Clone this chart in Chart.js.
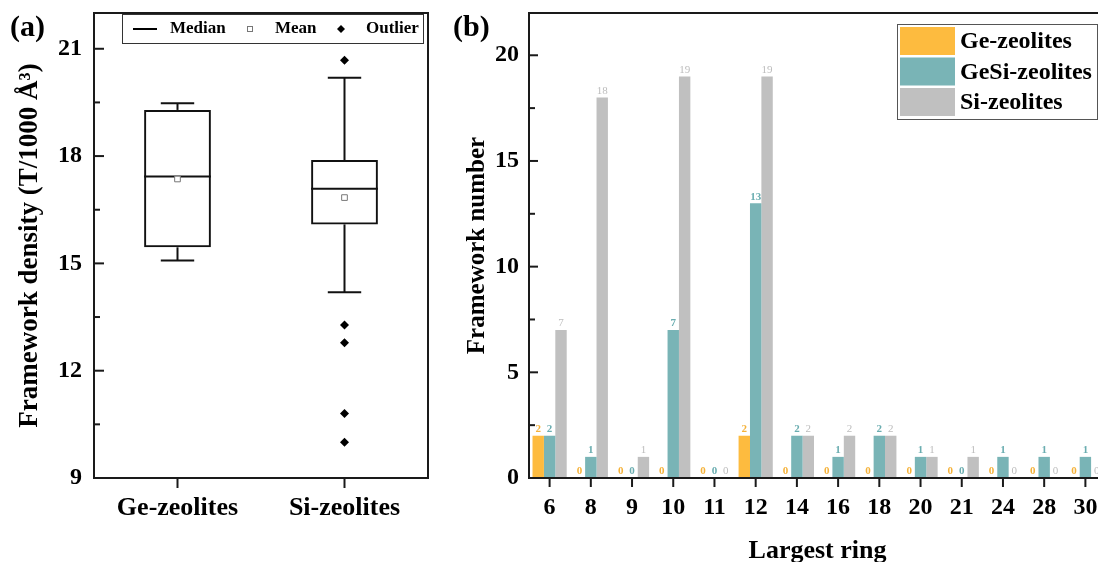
<!DOCTYPE html>
<html>
<head>
<meta charset="utf-8">
<script src="https://cdn.jsdelivr.net/npm/chart.js@4.4.0/dist/chart.umd.min.js"></script>
<style>
  html, body { margin: 0; padding: 0; background: #fff; overflow: hidden; }
  #wrap { position: relative; width: 1098px; height: 562px; overflow: hidden; }
  #densityChart { position: absolute; left: 0; top: 0; }
  #ringChart { position: absolute; left: 440px; top: 0; }
</style>
</head>
<body>
<div id="wrap">
  <canvas id="densityChart" width="440" height="562"></canvas>
  <canvas id="ringChart" width="680" height="562"></canvas>
</div>
<script>
// (a) framework density box plot
const zeoliteTypes = ['Ge-zeolites', 'Si-zeolites'];
const whiskerLow = [15.08, 14.19];
const quartile1 = [15.45, 16.09];
const medians = [17.43, 17.09];
const quartile3 = [19.29, 17.89];
const whiskerHigh = [19.48, 20.19];
const means = [17.36, 16.84];
const siOutliers = [20.68, 13.28, 12.78, 10.80, 10.00];
const densityTicks = [9, 12, 15, 18, 21];

// (b) largest ring counts
const ringSizes = ['6', '8', '9', '10', '11', '12', '14', '16', '18', '20', '21', '24', '28', '30'];
const geCounts = [2, 0, 0, 0, 0, 2, 0, 0, 0, 0, 0, 0, 0, 0];
const gesiCounts = [2, 1, 0, 7, 0, 13, 2, 1, 2, 1, 0, 1, 1, 1];
const siCounts = [7, 18, 1, 19, 0, 19, 2, 2, 2, 1, 1, 0, 0, 0];
const countTicks = [0, 5, 10, 15, 20];

Chart.defaults.font.family = '"Liberation Serif", "Times New Roman", serif';
Chart.defaults.color = '#000';

// major ticks plus a minor one halfway to the next
function withMinors(major, max) {
    const step = major[1] - major[0];
    const all = [];
    major.forEach(v => {
        all.push({ value: v });
        if (v + step / 2 <= max) all.push({ value: v + step / 2 });
    });
    return all;
}

// keep the plot box where we put it (no extra room for edge labels)
const fitY = width => s => { s.width = width; s.paddingTop = 0; s.paddingBottom = 0; };
const fitX = height => s => { s.height = height; s.paddingLeft = 0; s.paddingRight = 0; };

// frame around the plot, inward y ticks, outward x ticks, panel letter
function frameTicks(panel, panelX, yMajorLen, xTickLen) {
    return {
        id: 'frameTicks',
        afterDraw(chart) {
            const { ctx, chartArea: a, scales: { x, y } } = chart;
            ctx.save();
            ctx.strokeStyle = '#1a1a1a';
            ctx.lineWidth = 2;
            ctx.strokeRect(a.left, a.top, a.right - a.left, a.bottom - a.top);
            y.ticks.forEach(t => {
                const py = y.getPixelForValue(t.value);
                const len = t.label !== '' ? yMajorLen : 6;
                ctx.beginPath();
                ctx.moveTo(a.left, py);
                ctx.lineTo(a.left + len, py);
                ctx.stroke();
            });
            x.ticks.forEach((t, i) => {
                const px = x.getPixelForTick(i);
                ctx.beginPath();
                ctx.moveTo(px, a.bottom);
                ctx.lineTo(px, a.bottom + xTickLen);
                ctx.stroke();
            });
            ctx.fillStyle = '#000';
            ctx.font = 'bold 30px "Liberation Serif", serif';
            ctx.textBaseline = 'middle';
            ctx.textAlign = 'left';
            ctx.fillText(panel, panelX, 28);
            ctx.restore();
        }
    };
}

const boxWhiskers = {
    id: 'boxWhiskers',
    beforeDatasetsDraw(chart) {
        const { ctx, scales: { x, y } } = chart;
        const boxes = chart.getDatasetMeta(0).data;
        ctx.save();
        ctx.strokeStyle = '#111';
        ctx.lineWidth = 2;
        zeoliteTypes.forEach((_, i) => {
            const cx = x.getPixelForValue(i);
            const w = boxes[i].width;
            const seg = (x1, y1, x2, y2) => {
                ctx.beginPath();
                ctx.moveTo(x1, y1);
                ctx.lineTo(x2, y2);
                ctx.stroke();
            };
            seg(cx, y.getPixelForValue(whiskerLow[i]), cx, y.getPixelForValue(quartile1[i]));
            seg(cx, y.getPixelForValue(quartile3[i]), cx, y.getPixelForValue(whiskerHigh[i]));
            seg(cx - w / 4, y.getPixelForValue(whiskerLow[i]), cx + w / 4, y.getPixelForValue(whiskerLow[i]));
            seg(cx - w / 4, y.getPixelForValue(whiskerHigh[i]), cx + w / 4, y.getPixelForValue(whiskerHigh[i]));
            seg(cx - w / 2, y.getPixelForValue(medians[i]), cx + w / 2, y.getPixelForValue(medians[i]));
        });
        ctx.restore();
    }
};

const densityLegend = {
    id: 'densityLegend',
    afterDraw(chart) {
        const { ctx } = chart;
        const cy = 29;
        ctx.save();
        ctx.fillStyle = '#fff';
        ctx.fillRect(122, 14, 301, 29);
        ctx.strokeStyle = '#333';
        ctx.lineWidth = 1;
        ctx.strokeRect(122.5, 14.5, 301, 29);
        ctx.lineWidth = 2;
        ctx.strokeStyle = '#000';
        ctx.beginPath();
        ctx.moveTo(133, cy);
        ctx.lineTo(157, cy);
        ctx.stroke();
        ctx.lineWidth = 1;
        ctx.strokeStyle = '#777';
        ctx.strokeRect(247.5, cy - 2.5, 5, 5);
        ctx.fillStyle = '#000';
        ctx.beginPath();
        ctx.moveTo(341, cy - 4);
        ctx.lineTo(345, cy);
        ctx.lineTo(341, cy + 4);
        ctx.lineTo(337, cy);
        ctx.closePath();
        ctx.fill();
        ctx.font = 'bold 17px "Liberation Serif", serif';
        ctx.textBaseline = 'middle';
        ctx.fillText('Median', 170, cy);
        ctx.fillText('Mean', 275, cy);
        ctx.fillText('Outlier', 366, cy);
        ctx.restore();
    }
};

new Chart(document.getElementById('densityChart'), {
    type: 'bar',
    data: {
        labels: zeoliteTypes,
        datasets: [
            {
                type: 'bar',
                label: 'Box',
                data: zeoliteTypes.map((_, i) => [quartile1[i], quartile3[i]]),
                backgroundColor: 'rgba(0,0,0,0)',
                borderColor: '#111',
                borderWidth: 2,
                borderSkipped: false,
                barPercentage: 0.4,
                categoryPercentage: 1,
                order: 3
            },
            {
                type: 'line',
                label: 'Mean',
                data: means,
                showLine: false,
                pointStyle: 'rect',
                pointRadius: 4,
                pointBackgroundColor: '#fff',
                pointBorderColor: '#777',
                pointBorderWidth: 1,
                order: 2
            },
            {
                type: 'line',
                label: 'Outlier',
                data: siOutliers.map(v => ({ x: 'Si-zeolites', y: v })),
                showLine: false,
                pointStyle: 'rectRot',
                pointRadius: 4.5,
                pointBackgroundColor: '#000',
                pointBorderColor: '#000',
                pointBorderWidth: 0,
                order: 1
            }
        ]
    },
    options: {
        responsive: false,
        animation: false,
        events: [],
        layout: { padding: { left: 0, top: 13, right: 12, bottom: 0 } },
        plugins: { legend: { display: false }, tooltip: { enabled: false } },
        scales: {
            x: {
                grid: { display: false, drawTicks: false },
                border: { display: false },
                ticks: { font: { size: 26, weight: 'bold' }, padding: 15 },
                afterFit: fitX(84)
            },
            y: {
                min: 9,
                max: 22,
                grid: { display: false, drawTicks: false },
                border: { display: false },
                afterBuildTicks: s => { s.ticks = withMinors(densityTicks, 22); },
                ticks: {
                    autoSkip: false,
                    font: { size: 24, weight: 'bold' },
                    padding: 12,
                    callback: v => densityTicks.includes(v) ? v : ''
                },
                title: {
                    display: true,
                    text: 'Framework density (T/1000 Å³)',
                    font: { size: 27, weight: 'bold' },
                    padding: { top: 14, bottom: 0 }
                },
                afterFit: fitY(94)
            }
        }
    },
    plugins: [boxWhiskers, frameTicks('(a)', 10, 10, 10), densityLegend]
});

const valueLabels = {
    id: 'valueLabels',
    afterDatasetsDraw(chart) {
        const { ctx } = chart;
        ctx.save();
        ctx.textAlign = 'center';
        ctx.textBaseline = 'bottom';
        chart.data.datasets.forEach((ds, d) => {
            ctx.fillStyle = ds.valueColor;
            ctx.font = (d < 2 ? 'bold ' : '') + '11px "Liberation Serif", serif';
            chart.getDatasetMeta(d).data.forEach((el, i) => {
                ctx.fillText(ds.data[i], el.x, el.y - 1);
            });
        });
        ctx.restore();
    }
};

const ringLegend = {
    id: 'ringLegend',
    afterDraw(chart) {
        const { ctx } = chart;
        ctx.save();
        ctx.fillStyle = '#fff';
        ctx.fillRect(457, 24, 200, 95);
        ctx.strokeStyle = '#555';
        ctx.lineWidth = 1;
        ctx.strokeRect(457.5, 24.5, 200, 95);
        ctx.font = 'bold 24px "Liberation Serif", serif';
        ctx.textBaseline = 'middle';
        chart.data.datasets.forEach((ds, k) => {
            const top = 27 + k * 30.5;
            ctx.fillStyle = ds.backgroundColor;
            ctx.fillRect(460, top, 55, 28);
            ctx.fillStyle = '#000';
            ctx.fillText(ds.label, 520, top + 15);
        });
        ctx.restore();
    }
};

new Chart(document.getElementById('ringChart'), {
    type: 'bar',
    data: {
        labels: ringSizes,
        datasets: [
            { label: 'Ge-zeolites', data: geCounts, backgroundColor: '#FDBB3F', valueColor: '#F5B23A' },
            { label: 'GeSi-zeolites', data: gesiCounts, backgroundColor: '#79B4B6', valueColor: '#6AADB0' },
            { label: 'Si-zeolites', data: siCounts, backgroundColor: '#C0C0C0', valueColor: '#BDBDBD' }
        ]
    },
    options: {
        responsive: false,
        animation: false,
        events: [],
        layout: { padding: { left: 0, top: 13, right: 14, bottom: 0 } },
        datasets: { bar: { categoryPercentage: 0.83, barPercentage: 1 } },
        plugins: { legend: { display: false }, tooltip: { enabled: false } },
        scales: {
            x: {
                grid: { display: false, drawTicks: false },
                border: { display: false },
                ticks: { font: { size: 24, weight: 'bold' }, padding: 15, autoSkip: false, maxRotation: 0 },
                title: {
                    display: true,
                    text: 'Largest ring',
                    font: { size: 26, weight: 'bold', lineHeight: 0.8 },
                    padding: 0
                },
                afterFit: fitX(84)
            },
            y: {
                min: 0,
                max: 22,
                grid: { display: false, drawTicks: false },
                border: { display: false },
                afterBuildTicks: s => { s.ticks = withMinors(countTicks, 22); },
                ticks: {
                    autoSkip: false,
                    font: { size: 24, weight: 'bold' },
                    padding: 10,
                    callback: v => countTicks.includes(v) ? v : ''
                },
                title: {
                    display: true,
                    text: 'Framework number',
                    font: { size: 25, weight: 'bold' },
                    padding: { top: 23, bottom: 0 }
                },
                afterFit: fitY(89)
            }
        }
    },
    plugins: [valueLabels, frameTicks('(b)', 13, 9, 9), ringLegend]
});
</script>
</body>
</html>
